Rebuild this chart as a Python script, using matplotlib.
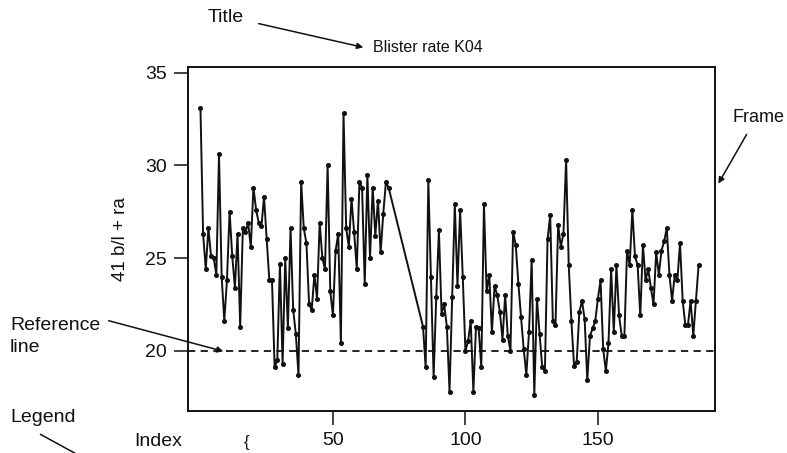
import matplotlib
matplotlib.use("Agg")
import matplotlib.pyplot as plt
import numpy as np

# ── data ─────────────────────────────────────────────────────────────────
# first run of observations, index 0..71
rate_a = [33.1, 26.3, 24.4, 26.6, 25.1, 25.0, 24.1, 30.6, 24.0, 21.6,
          23.8, 27.5, 25.1, 23.4, 26.3, 21.3, 26.6, 26.4, 26.9, 25.6,
          28.8, 27.6, 26.9, 26.7, 28.3, 26.0, 23.8, 23.8, 19.1, 19.5,
          24.7, 19.3, 25.0, 21.2, 26.6, 22.2, 20.9, 18.7, 29.1, 26.6,
          25.8, 22.5, 22.2, 24.1, 22.8, 26.9, 25.0, 24.4, 30.0, 23.2,
          21.9, 25.4, 26.3, 20.4, 32.8, 26.6, 25.6, 28.2, 26.4, 24.4,
          29.1, 28.8, 23.6, 29.5, 25.0, 28.8, 26.2, 28.1, 25.3, 27.4,
          29.1, 28.8]
start_a = 0
# second run, after the gap in the index
rate_b = [21.3, 19.1, 29.2, 24.0, 18.6, 22.9, 26.5, 22.0, 22.5, 21.3,
          17.8, 22.9, 27.9, 23.5, 27.6, 24.0, 20.0, 20.5, 21.6, 17.8,
          21.3, 21.2, 19.1, 27.9, 23.2, 24.1, 21.0, 23.5, 23.0, 22.1,
          20.6, 23.0, 20.8, 20.0, 26.4, 25.7, 23.6, 21.8, 20.1, 18.7,
          21.0, 24.9, 17.6, 22.8, 20.9, 19.1, 18.9, 26.0, 27.3, 21.6,
          21.4, 26.8, 25.6, 26.3, 30.3, 24.6, 21.6, 19.2, 19.4, 22.1,
          22.7, 21.7, 18.4, 20.8, 21.2, 21.6, 22.8, 23.8, 20.1, 18.9,
          20.4, 24.4, 21.0, 24.6, 21.9, 20.8, 20.8, 25.4, 24.6, 27.6,
          25.1, 24.6, 21.9, 25.7, 23.8, 24.4, 23.4, 22.5, 25.3, 24.1,
          25.4, 25.9, 26.6, 24.1, 22.7, 24.1, 23.8, 25.8, 22.7, 21.4,
          21.4, 22.7, 20.8, 22.7, 24.6]
start_b = 84
ref_level = 20
x_ticks = [50, 100, 150]
y_ticks = [20, 25, 30, 35]

idx = np.concatenate([np.arange(start_a, start_a + len(rate_a)),
                      np.arange(start_b, start_b + len(rate_b))])
rate = np.array(rate_a + rate_b)

# ── figure ──────────────────────────────────────────────────────────────
W, H = 787, 453
plt.rcParams["font.family"] = ["Liberation Sans", "DejaVu Sans"]
fig = plt.figure(figsize=(W / 100, H / 100), dpi=100)
fig.patch.set_facecolor("white")


def P(x, y):
    # pixel (from top-left) -> figure fraction
    return (x / W, 1 - y / H)


L, R, T, B = 188, 715, 67, 411
ax = fig.add_axes([L / W, 1 - B / H, (R - L) / W, (B - T) / H])

ax.plot(idx, rate, "-", color="#111111", lw=1.4,
        marker="o", ms=2.6, mfc="#111111", mec="#111111")
ax.axhline(ref_level, color="#111111", lw=1.3, ls=(0, (4, 3)))

ax.set_xlim(-4.7, 194.2)
ax.set_ylim(16.75, 35.3)
ax.set_xticks(x_ticks)
ax.set_yticks(y_ticks)
ax.tick_params(direction="out", length=10, width=1.1, labelsize=14,
               colors="#111111", pad=5)
for s in ax.spines.values():
    s.set_linewidth(1.4)
    s.set_color("#111111")
ax.set_ylabel("41 b/l + ra", fontsize=13.5, labelpad=12, color="#111111")

# title
fig.text(*P(428, 47), "Blister rate K04", ha="center", va="center",
         fontsize=11.5, color="#111111")

# ── annotations around the chart ────────────────────────────────────────
txt = dict(fontsize=14, color="#111111", va="center")
arr = dict(arrowstyle="-|>", color="#111111", lw=1.1, mutation_scale=9)

fig.text(*P(208, 18), "Title", ha="left", **txt)
ax.annotate("", xy=P(366, 48), xytext=P(256, 23),
            xycoords="figure fraction", textcoords="figure fraction",
            arrowprops=arr)

fig.text(*P(784, 118), "Frame", ha="right", fontsize=13, color="#111111",
         va="center")
ax.annotate("", xy=P(717, 186), xytext=P(748, 132),
            xycoords="figure fraction", textcoords="figure fraction",
            arrowprops=arr)

fig.text(*P(10, 326), "Reference", ha="left", **txt)
fig.text(*P(10, 348), "line", ha="left", **txt)
ax.annotate("", xy=P(226, 352), xytext=P(106, 320),
            xycoords="figure fraction", textcoords="figure fraction",
            arrowprops=arr)

fig.text(*P(10, 418), "Legend", ha="left", **txt)
ax.annotate("", xy=P(80, 456), xytext=P(38, 433),
            xycoords="figure fraction", textcoords="figure fraction",
            arrowprops=dict(arrowstyle="-", color="#111111", lw=1.1))

fig.text(*P(134, 442), "Index", ha="left", **txt)
fig.text(*P(246, 442), "{", ha="center", fontsize=12, color="#111111",
         va="center")

fig.savefig("out.png", dpi=100, facecolor="white")
